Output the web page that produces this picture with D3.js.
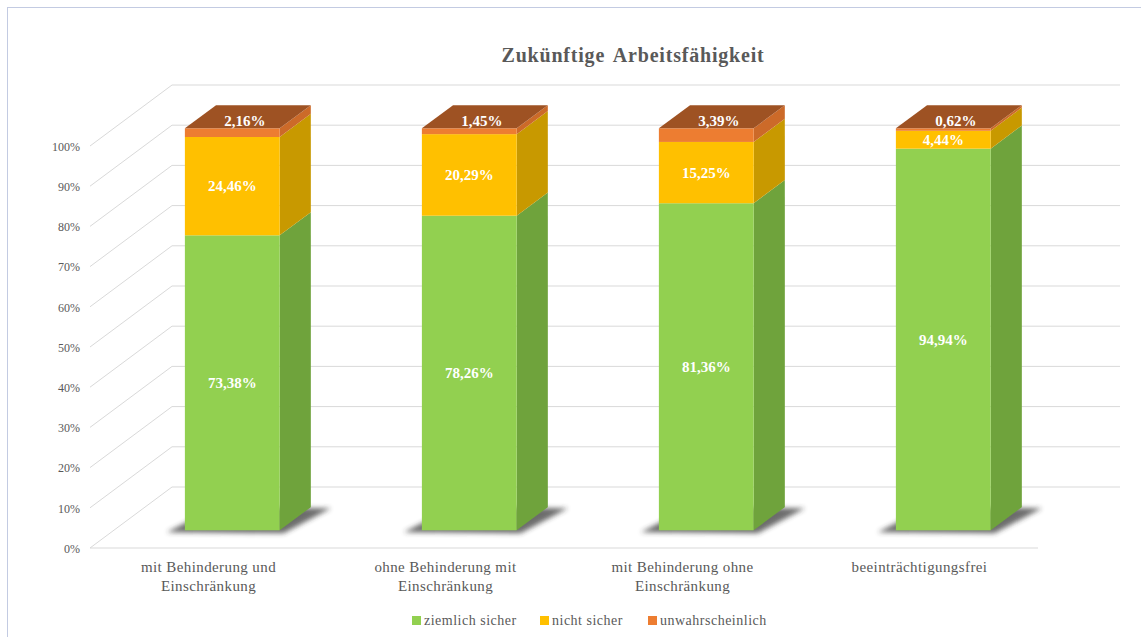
<!DOCTYPE html>
<html><head><meta charset="utf-8">
<script src="https://cdn.jsdelivr.net/npm/d3@7"></script>
<style>
html,body{margin:0;padding:0;background:#fff;}
svg{display:block;}
</style></head>
<body>
<svg id="chart" width="1141" height="637"></svg>
<script>
// ---- data ----
const categories = ["mit Behinderung und Einschränkung", "ohne Behinderung mit Einschränkung", "mit Behinderung ohne Einschränkung", "beeinträchtigungsfrei"];
const categoryLines = [["mit Behinderung und", "Einschränkung"], ["ohne Behinderung mit", "Einschränkung"], ["mit Behinderung ohne", "Einschränkung"], ["beeinträchtigungsfrei"]];
const seriesNames = ["ziemlich sicher", "nicht sicher", "unwahrscheinlich"];
const ziemlichSicher = [73.38, 78.26, 81.36, 94.94];
const nichtSicher = [24.46, 20.29, 15.25, 4.44];
const unwahrscheinlich = [2.16, 1.45, 3.39, 0.62];
const yTicks = [0, 10, 20, 30, 40, 50, 60, 70, 80, 90, 100];
const title = "Zukünftige Arbeitsfähigkeit";

// ---- styles ----
const frontCol = ["#92D050", "#FFC000", "#ED7D31"];
const sideCol = ["#6FA33C", "#C89900", "#CC6A29"];
const topCol = "#9E5223";

const svg = d3.select("#chart");
const rows = categories.map((c, i) => ({cat: c, vals: [ziemlichSicher[i], nichtSicher[i], unwahrscheinlich[i]]}));
const stack = d3.stack().keys([0, 1, 2]).value((d, k) => d.vals[k]);
const stacked = stack(rows);

// geometry (oblique 3D)
const DX = 82, DY = -61;            // full depth offset
const d0 = 0.29, dd = 0.38;         // bar front depth and bar depth (fractions)
const x = d3.scaleBand().domain(categories).range([90, 1038]).paddingInner(0.6).paddingOuter(0.3);
const y = d3.scaleLinear().domain([0, 100]).range([548, 146]);

// border
svg.append("rect").attr("x", 7.5).attr("y", 7.5).attr("width", 1300).attr("height", 800)
  .attr("fill", "none").attr("stroke", "#C3CBE2").attr("stroke-width", 1);

// title
svg.append("text").attr("x", 633).attr("y", 62).attr("text-anchor", "middle")
  .attr("font-family", "Liberation Serif, serif").attr("font-weight", "bold").attr("font-size", 20)
  .attr("letter-spacing", 0.8).attr("word-spacing", 3)
  .attr("fill", "#595959").text(title);

// gridlines
const grid = svg.append("g").attr("stroke", "#D9D9D9").attr("stroke-width", 1).attr("fill", "none");
yTicks.forEach(t => {
  const yy = y(t);
  grid.append("path").attr("d", `M90,${yy}L${90 + DX},${yy + DY}L${1038 + DX},${yy + DY}`);
});
grid.append("path").attr("d", `M90,${y(0)}L1038,${y(0)}`);

// y axis
const yAxis = svg.append("g").attr("transform", "translate(80,0)")
  .call(d3.axisLeft(y).tickValues(yTicks).tickSize(0).tickPadding(0).tickFormat(d => d + "%"));
yAxis.select(".domain").remove();
yAxis.selectAll("text").attr("font-family", "Liberation Serif, serif").attr("font-size", 12).attr("fill", "#595959").attr("dy", "0.35em");

// shadow filter
const defs = svg.append("defs");
defs.append("filter").attr("id", "blur").attr("x", "-50%").attr("y", "-50%").attr("width", "200%").attr("height", "200%")
  .append("feGaussianBlur").attr("stdDeviation", 2.5);

const fx = d3.scaleLinear().domain([0, 1]).range([0, DX]);
const fy = d3.scaleLinear().domain([0, 1]).range([0, DY]);
const ox = fx(d0), oy = fy(d0), bx = fx(dd), by = fy(dd);

// shadows
rows.forEach(r => {
  const xl = x(r.cat) + ox, xr = xl + x.bandwidth(), yb = y(0) + oy;
  svg.append("path")
    .attr("d", `M${xl - 18},${yb + 2}L${xr + 4},${yb + 3}L${xr + bx + 20},${yb + by + 1}L${xl + bx},${yb + by}Z`)
    .attr("fill", "#2e2e2e").attr("opacity", 0.7).attr("filter", "url(#blur)");
});

// bars
const bars = svg.append("g");
rows.forEach((r, i) => {
  const g = bars.append("g");
  const xl = x(r.cat) + ox, xr = xl + x.bandwidth();
  stacked.forEach((s, k) => {
    const y0 = y(s[i][0]) + oy, y1 = y(s[i][1]) + oy;
    g.append("path").attr("d", `M${xr},${y0}L${xr + bx},${y0 + by}L${xr + bx},${y1 + by}L${xr},${y1}Z`)
      .attr("fill", sideCol[k]);
    g.append("rect").attr("x", xl).attr("y", y1).attr("width", xr - xl).attr("height", y0 - y1).attr("fill", frontCol[k]);
  });
  const yt = y(100) + oy;
  g.append("path").attr("d", `M${xl},${yt}L${xl + bx},${yt + by}L${xr + bx},${yt + by}L${xr},${yt}Z`).attr("fill", topCol);
});

// data labels
const fmt = v => v.toFixed(2).replace(".", ",") + "%";
const labels = svg.append("g").attr("font-family", "Liberation Serif, serif").attr("font-weight", "bold")
  .attr("font-size", 15).attr("fill", "#fff").attr("text-anchor", "middle");
rows.forEach((r, i) => {
  const xc = x(r.cat) + ox + x.bandwidth() / 2;
  stacked.forEach((s, k) => {
    let lx, ly;
    if (k === 2) {
      lx = xc + bx / 2 - 3; ly = y(100) + oy + by / 2 + 4;
    } else {
      lx = xc; ly = (y(s[i][0]) + y(s[i][1])) / 2 + oy;
    }
    labels.append("text").attr("x", lx).attr("y", ly).attr("dy", "0.35em").text(fmt(r.vals[k]));
  });
});

// x labels
const xl = svg.append("g").attr("font-family", "Liberation Serif, serif").attr("font-size", 15)
  .attr("fill", "#595959").attr("text-anchor", "middle").attr("letter-spacing", 0.4);
rows.forEach((r, i) => {
  const cx = x(r.cat) + x.bandwidth() / 2;
  categoryLines[i].forEach((ln, j) => {
    xl.append("text").attr("x", cx).attr("y", 572 + j * 19).text(ln);
  });
});

// legend
const legX = [412, 540, 648];
const leg = svg.append("g");
seriesNames.forEach((n, k) => {
  leg.append("rect").attr("x", legX[k]).attr("y", 616).attr("width", 9).attr("height", 9).attr("fill", frontCol[k]);
  leg.append("text").attr("x", legX[k] + 12).attr("y", 625).attr("font-family", "Liberation Serif, serif")
    .attr("font-size", 14).attr("letter-spacing", 0.5).attr("fill", "#595959").text(n);
});
</script>
</body></html>
